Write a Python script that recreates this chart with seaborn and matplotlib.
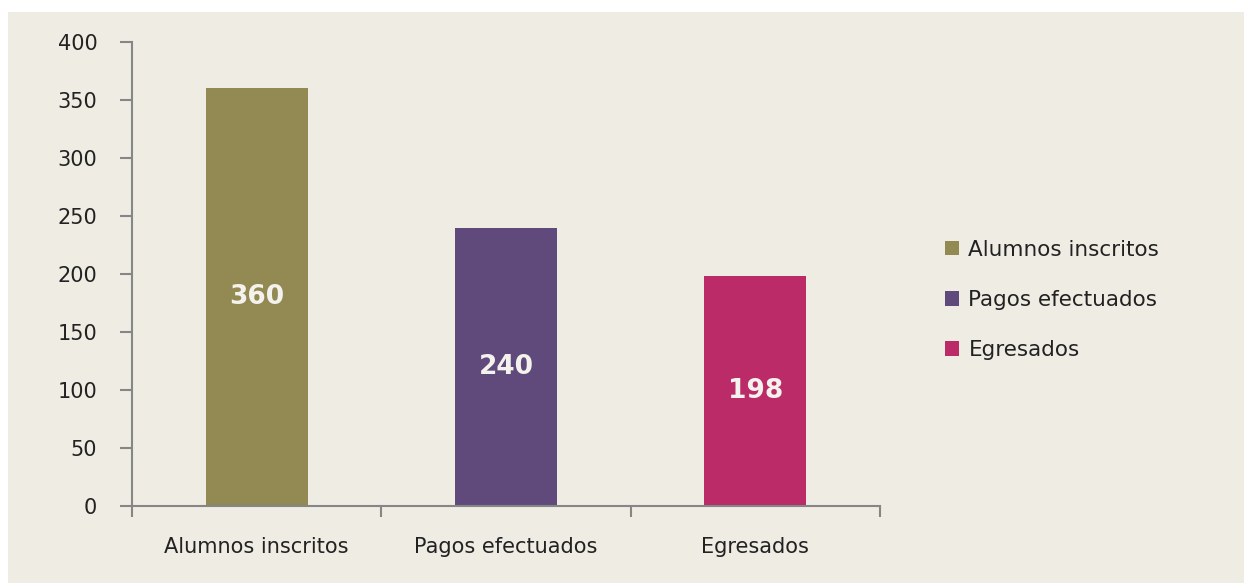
import matplotlib
matplotlib.use("Agg")
import matplotlib.pyplot as plt
import pandas as pd
import seaborn as sns
from matplotlib.patches import Rectangle

categorias = ["Alumnos inscritos", "Pagos efectuados", "Egresados"]
valores = [360, 240, 198]
colores = ["#938953", "#604A7B", "#BA2B67"]

df = pd.DataFrame({"categoria": categorias, "valor": valores})

sns.set_style("white")
plt.rcParams["font.family"] = ["DejaVu Sans"]

fig = plt.figure(figsize=(12.44, 5.83), dpi=100, facecolor="white")
fig.patches.append(Rectangle((8 / 1244, 0), 1, 1 - 12 / 583, transform=fig.transFigure,
                             facecolor="#EFECE4", edgecolor="none", zorder=-10))
ax = fig.add_axes([132 / 1244, 1 - 506 / 583, (880 - 132) / 1244, (506 - 42) / 583])
ax.set_facecolor("none")

sns.barplot(data=df, x="categoria", y="valor", hue="categoria", palette=colores,
            dodge=False, width=0.41, ax=ax, legend=True, saturation=1,
            edgecolor="none", linewidth=0)

for i, v in enumerate(valores):
    ax.text(i, v / 2, str(v), ha="center", va="center", color="#F4F2EC",
            fontsize=19, fontweight="bold")

ax.set_ylim(0, 400)
ax.set_xlim(-0.5, 2.5)
ax.set_yticks(range(0, 401, 50))
ax.set_xlabel("")
ax.set_ylabel("")

gris = "#868686"
for s in ["top", "right"]:
    ax.spines[s].set_visible(False)
for s in ["left", "bottom"]:
    ax.spines[s].set_color(gris)
    ax.spines[s].set_linewidth(1.5)

ax.tick_params(axis="y", left=True, length=9, width=1.5, color=gris, labelsize=15,
               pad=16, labelcolor="#222222", direction="out")
ax.tick_params(axis="x", which="major", bottom=True, length=0, labelsize=15, pad=22,
               labelcolor="#222222")
ax.set_xticks([-0.5, 0.5, 1.5, 2.5], minor=True)
ax.tick_params(axis="x", which="minor", bottom=True, length=8, width=1.5, color=gris,
               direction="out")

leg = ax.legend(loc="center left", bbox_to_anchor=(1.075, 0.444), frameon=False,
                fontsize=15.5, handlelength=0.65, handleheight=0.65, labelspacing=1.4,
                handletextpad=0.45, borderaxespad=0)
for t in leg.get_texts():
    t.set_color("#222222")

fig.savefig("out.png", dpi=100, facecolor=fig.get_facecolor())
